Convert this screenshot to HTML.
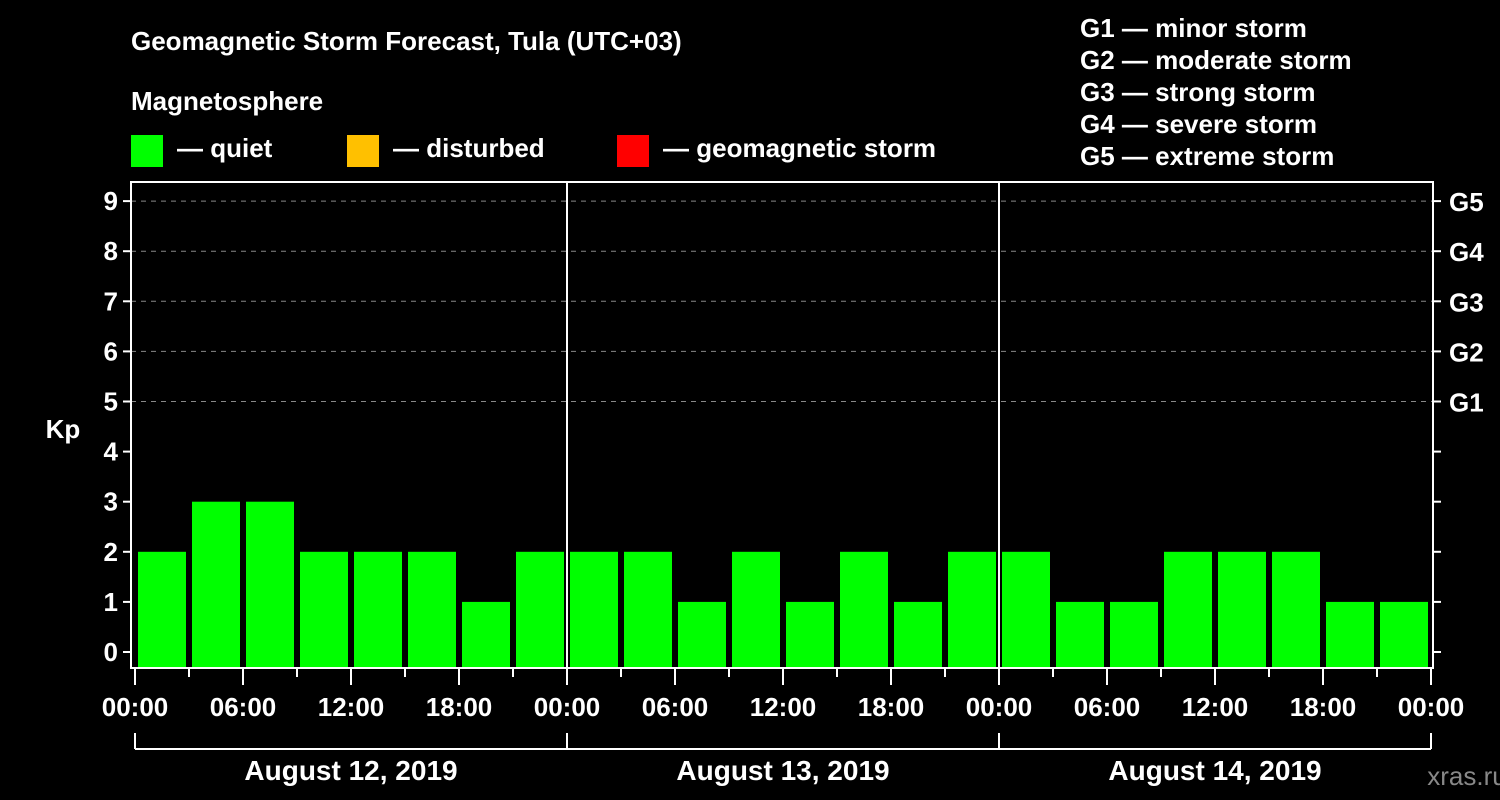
<!DOCTYPE html>
<html><head><meta charset="utf-8">
<style>
html,body{margin:0;padding:0;background:#000;width:1500px;height:800px;overflow:hidden}
svg{display:block;font-family:"Liberation Sans",sans-serif;font-weight:bold}
</style></head>
<body>
<svg id="c" width="1500" height="800">
<rect width="1500" height="800" fill="#000"/>
<text x="131" y="50" fill="#fff" font-size="26">Geomagnetic Storm Forecast, Tula (UTC+03)</text>
<text x="131" y="110" fill="#fff" font-size="26">Magnetosphere</text>
<g><rect x="131" y="135" width="32" height="32" fill="#00ff00"/><text x="177" y="157" fill="#fff" font-size="26">— quiet</text></g>
<g><rect x="347" y="135" width="32" height="32" fill="#ffc000"/><text x="393" y="157" fill="#fff" font-size="26">— disturbed</text></g>
<g><rect x="617" y="135" width="32" height="32" fill="#ff0000"/><text x="663" y="157" fill="#fff" font-size="26">— geomagnetic storm</text></g>
<g fill="#fff" font-size="26">
<text x="1080" y="37">G1 — minor storm</text>
<text x="1080" y="69">G2 — moderate storm</text>
<text x="1080" y="101">G3 — strong storm</text>
<text x="1080" y="133">G4 — severe storm</text>
<text x="1080" y="165">G5 — extreme storm</text>
</g>
<text x="63" y="438" fill="#fff" font-size="26" text-anchor="middle">Kp</text>
<text x="1467" y="785" fill="#888" font-size="26" text-anchor="middle" font-weight="normal">xras.ru</text>
<g id="plot"></g>
</svg>
<script>
const kpValues=[2,3,3,2,2,2,1,2, 2,2,1,2,1,2,1,2, 2,1,1,2,2,2,1,1];
const yTicks=[0,1,2,3,4,5,6,7,8,9];
const gLabels=["G1","G2","G3","G4","G5"];
const gLevels=[5,6,7,8,9];
const dayLabels=["August 12, 2019","August 13, 2019","August 14, 2019"];
const hourLabels=["00:00","06:00","12:00","18:00"];

const NS="http://www.w3.org/2000/svg";
const g=document.getElementById('plot');
const L=131,R=1433,T=182,B=668,X0=135,dayW=432;
const y=k=>652-50.1*k;
const x=h=>X0+h*dayW/24;
function mk(t,a){const e=document.createElementNS(NS,t);for(const k in a)e.setAttribute(k,a[k]);g.appendChild(e);return e;}

// grid
gLevels.forEach(k=>{
 const e=mk('line',{x1:L,x2:R,y1:y(k),y2:y(k),stroke:'#888','stroke-dasharray':'5,5','stroke-width':1});
 
 
});
// bars
const step=3;
kpValues.forEach((v,i)=>{
 const col=v>=5?'#ff0000':(v>=4?'#ffc000':'#00ff00');
 const e=mk('rect',{x:x(i*step)+3,y:y(v),width:dayW/8-6,height:B-y(v),fill:col});
 
 
});
// day separators
for(let d=1;d<3;d++){
 const e=mk('line',{x1:x(d*24),x2:x(d*24),y1:T,y2:B,stroke:'#fff','stroke-width':2});
 
 
}
// frame
const fr=mk('rect',{x:L,y:T,width:R-L,height:B-T,fill:'none',stroke:'#fff','stroke-width':2});


// y ticks
yTicks.forEach(k=>{
 mk('line',{x1:L-8,x2:L,y1:y(k),y2:y(k),stroke:'#fff','stroke-width':2});
 mk('line',{x1:R,x2:R+8,y1:y(k),y2:y(k),stroke:'#fff','stroke-width':2});
 const t=mk('text',{x:L-13,y:y(k)+9,fill:'#fff','font-size':26,'text-anchor':'end'});
 t.textContent=k;
 
 
});
gLabels.forEach((s,i)=>{
 const t=mk('text',{x:R+16,y:y(gLevels[i])+10,fill:'#fff','font-size':26});
 t.textContent=s;
 
 
});
// x ticks
for(let h=0;h<=72;h+=3){
 const major=h%6===0;
 mk('line',{x1:x(h),x2:x(h),y1:B,y2:B+(major?17:9),stroke:'#fff','stroke-width':2});
 if(major){
  const t=mk('text',{x:x(h),y:716,fill:'#fff','font-size':26,'text-anchor':'middle'});
  t.textContent=hourLabels[(h/6)%4];
  
  
 }
}
// day brackets
mk('line',{x1:x(0),x2:x(72),y1:749,y2:749,stroke:'#fff','stroke-width':2});
for(let d=0;d<=3;d++) mk('line',{x1:x(d*24),x2:x(d*24),y1:733,y2:749,stroke:'#fff','stroke-width':2});
dayLabels.forEach((s,d)=>{
 const t=mk('text',{x:x(d*24+12),y:780,fill:'#fff','font-size':28,'text-anchor':'middle'});
 t.textContent=s;
 
 
});
</script>
</body></html>
